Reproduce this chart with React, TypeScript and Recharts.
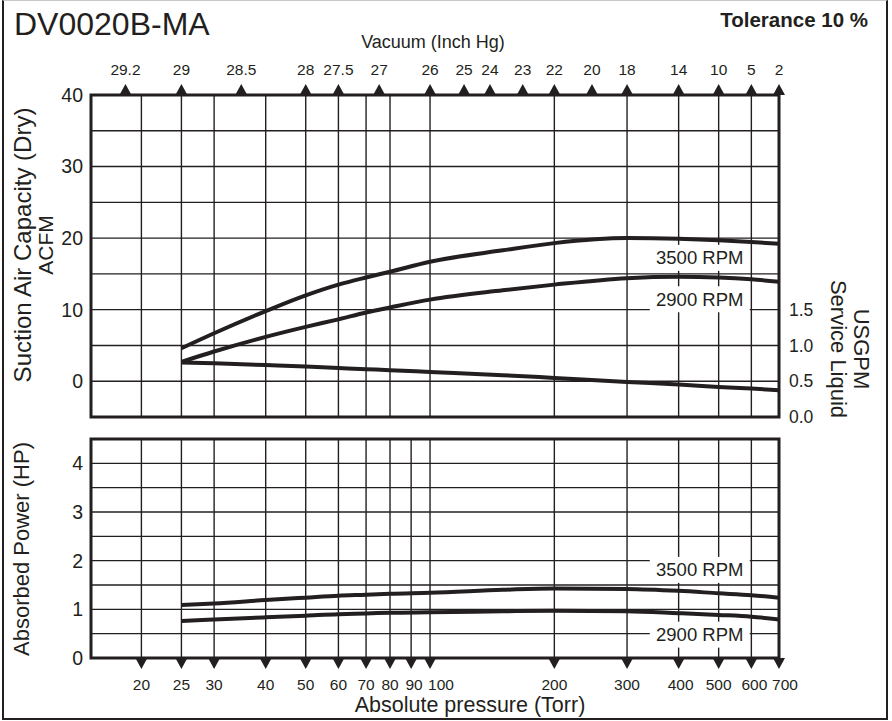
import React from 'react';
import { LineChart, Line, XAxis, YAxis, CartesianGrid, ReferenceArea, ReferenceDot } from 'recharts';

const INK = '#231f20';
const FONT = '"Liberation Sans", Arial, Helvetica, sans-serif';

// Absolute pressure (Torr) sample points
const torr = [25, 30, 40, 50, 60, 70, 80, 100, 150, 200, 300, 400, 500, 600, 700];
// Suction air capacity (ACFM)
const acfm3500 = [4.6, 6.7, 9.8, 12.0, 13.5, 14.5, 15.3, 16.7, 18.3, 19.3, 20.0, 19.9, 19.7, 19.45, 19.2];
const acfm2900 = [2.7, 4.15, 6.2, 7.6, 8.65, 9.6, 10.3, 11.4, 12.7, 13.5, 14.4, 14.6, 14.5, 14.25, 13.9];
// Service liquid (USGPM)
const serviceLiquid = [0.762, 0.75, 0.725, 0.705, 0.685, 0.668, 0.655, 0.63, 0.585, 0.546, 0.49, 0.454, 0.42, 0.398, 0.374];
// Absorbed power (HP)
const hp3500 = [1.09, 1.12, 1.19, 1.24, 1.28, 1.3, 1.32, 1.34, 1.4, 1.43, 1.42, 1.38, 1.33, 1.29, 1.24];
const hp2900 = [0.76, 0.79, 0.835, 0.87, 0.9, 0.915, 0.93, 0.94, 0.96, 0.97, 0.96, 0.92, 0.885, 0.85, 0.79];

// Axis ticks
const xDomain = [15.1, 700];
const pressureTicks = [20, 25, 30, 40, 50, 60, 70, 80, 90, 100, 200, 300, 400, 500, 600, 700];
const gridTorr = [20, 25, 30, 40, 50, 60, 70, 80, 90, 100, 200, 300, 400, 500, 600];
const vacuumLabels = ['29.2', '29', '28.5', '28', '27.5', '27', '26', '25', '24', '23', '22', '20', '18', '14', '10', '5', '2'];
const vacuumAtTorr = [18.3, 25, 34.9, 50, 60, 75.3, 100, 120.9, 139.7, 167.7, 200, 246.7, 300, 400, 500, 600, 700];
const acfmDomain = [-5, 40];
const acfmTicks = [0, 10, 20, 30, 40];
const acfmGrid = [-5, 0, 5, 10, 15, 20, 25, 30, 35, 40];
const usgpmDomain = [0, 4.5];
const usgpmTicks = [0, 0.5, 1, 1.5];
const hpDomain = [0, 4.5];
const hpTicks = [0, 1, 2, 3, 4];
const hpGrid = [0, 0.5, 1, 1.5, 2, 2.5, 3, 3.5, 4, 4.5];

// RPM tag anchors [torr, value]
const tagTop3500 = [450, 17.24];
const tagTop2900 = [450, 11.45];
const tagBot3500 = [450, 1.81];
const tagBot2900 = [450, 0.48];

const capacityRows = torr.map((t, i) => ({
  torr: t,
  acfm3500: acfm3500[i],
  acfm2900: acfm2900[i],
  liquid: serviceLiquid[i],
}));
const powerRows = torr.map((t, i) => ({ torr: t, hp3500: hp3500[i], hp2900: hp2900[i] }));

// small horizontal nudges of crowded pressure labels (style only)
const labelNudge: Record<number, number> = { 90: 3, 100: 11, 400: 2, 600: 3, 700: 6 };

const TopTick = (props: any) => {
  const { x, y, payload } = props;
  const i = vacuumAtTorr.indexOf(payload.value);
  return (
    <g>
      <path d={`M${x - 6},${y} L${x + 6},${y} L${x},${y - 11} Z`} fill={INK} />
      <text x={x} y={y - 20} textAnchor="middle" fontSize={15.5} fill={INK} fontFamily={FONT}>
        {vacuumLabels[i]}
      </text>
    </g>
  );
};

const BottomTick = (props: any) => {
  const { x, y, payload } = props;
  const dx = labelNudge[payload.value] || 0;
  return (
    <g>
      <path d={`M${x - 6},${y} L${x + 6},${y} L${x},${y + 11} Z`} fill={INK} />
      <text x={x + dx} y={y + 32} textAnchor="middle" fontSize={15.5} fill={INK} fontFamily={FONT}>
        {payload.value}
      </text>
    </g>
  );
};

const makeTag = (label: string) => (p: any) => {
  const { cx, cy } = p;
  return (
    <g>
      <rect x={cx - 50} y={cy - 13} width={100} height={26} fill="#fff" />
      <text x={cx} y={cy} textAnchor="middle" dominantBaseline="central" fontSize={18.5} fill={INK} fontFamily={FONT}>
        {label}
      </text>
    </g>
  );
};

const yTick = { fontSize: 19.5, fill: INK, fontFamily: FONT };

export default function App() {
  return (
    <div style={{ position: 'absolute', left: 0, top: 0, width: 892, height: 721, background: '#fff', fontFamily: FONT }}>
      <div
        style={{
          position: 'absolute',
          left: 2,
          top: 0,
          width: 886,
          height: 720,
          boxSizing: 'border-box',
          borderLeft: `2px solid ${INK}`,
          borderRight: `2px solid ${INK}`,
          borderTop: '1px solid #c8c8c8',
          borderBottom: `2px solid ${INK}`,
        }}
      />
      <div style={{ position: 'absolute', left: 0, top: 0 }}>
        <LineChart width={892} height={721} data={capacityRows} margin={{ top: 55, left: 31, right: 53, bottom: 304 }}>
          <XAxis xAxisId="b" dataKey="torr" type="number" scale="log" domain={xDomain} allowDataOverflow hide />
          <XAxis
            xAxisId="t"
            orientation="top"
            dataKey="torr"
            type="number"
            scale="log"
            domain={xDomain}
            allowDataOverflow
            ticks={vacuumAtTorr}
            interval={0}
            height={40}
            tickSize={0}
            tickMargin={0}
            axisLine={false}
            tickLine={false}
            tick={<TopTick />}
          />
          <YAxis
            yAxisId="l"
            type="number"
            domain={acfmDomain}
            allowDataOverflow
            ticks={acfmTicks}
            interval={0}
            width={60}
            tickSize={0}
            tickMargin={8}
            axisLine={false}
            tickLine={false}
            tick={yTick}
          />
          <YAxis
            yAxisId="r"
            orientation="right"
            type="number"
            domain={usgpmDomain}
            allowDataOverflow
            ticks={usgpmTicks}
            interval={0}
            width={60}
            tickSize={0}
            tickMargin={10}
            axisLine={false}
            tickLine={false}
            tick={{ fontSize: 17.5, fill: INK, fontFamily: FONT }}
            tickFormatter={(v: number) => v.toFixed(1)}
          />
          <CartesianGrid
            xAxisId="b"
            yAxisId="l"
            stroke={INK}
            strokeWidth={1.4}
            verticalValues={gridTorr}
            horizontalValues={acfmGrid}
          />
          <ReferenceDot xAxisId="b" yAxisId="l" x={tagTop3500[0]} y={tagTop3500[1]} r={0} ifOverflow="visible" shape={makeTag('3500 RPM')} />
          <ReferenceDot xAxisId="b" yAxisId="l" x={tagTop2900[0]} y={tagTop2900[1]} r={0} ifOverflow="visible" shape={makeTag('2900 RPM')} />
          <Line xAxisId="b" yAxisId="l" type="monotone" dataKey="acfm3500" stroke={INK} strokeWidth={4} dot={false} isAnimationActive={false} />
          <Line xAxisId="b" yAxisId="l" type="monotone" dataKey="acfm2900" stroke={INK} strokeWidth={4} dot={false} isAnimationActive={false} />
          <Line xAxisId="b" yAxisId="r" type="monotone" dataKey="liquid" stroke={INK} strokeWidth={4} dot={false} isAnimationActive={false} />
          <ReferenceArea
            xAxisId="b"
            yAxisId="l"
            x1={xDomain[0]}
            x2={xDomain[1]}
            y1={acfmDomain[0]}
            y2={acfmDomain[1]}
            fill="none"
            fillOpacity={0}
            stroke={INK}
            strokeWidth={3}
            ifOverflow="visible"
          />
        </LineChart>
      </div>
      <div style={{ position: 'absolute', left: 0, top: 0 }}>
        <LineChart width={892} height={721} data={powerRows} margin={{ top: 439, left: 31, right: 113, bottom: 13 }}>
          <XAxis
            xAxisId="b"
            dataKey="torr"
            type="number"
            scale="log"
            domain={xDomain}
            allowDataOverflow
            ticks={pressureTicks}
            interval={0}
            height={50}
            tickSize={0}
            tickMargin={0}
            axisLine={false}
            tickLine={false}
            tick={<BottomTick />}
          />
          <YAxis
            yAxisId="l"
            type="number"
            domain={hpDomain}
            allowDataOverflow
            ticks={hpTicks}
            interval={0}
            width={60}
            tickSize={0}
            tickMargin={8}
            axisLine={false}
            tickLine={false}
            tick={yTick}
          />
          <CartesianGrid
            xAxisId="b"
            yAxisId="l"
            stroke={INK}
            strokeWidth={1.4}
            verticalValues={gridTorr}
            horizontalValues={hpGrid}
          />
          <ReferenceDot xAxisId="b" yAxisId="l" x={tagBot3500[0]} y={tagBot3500[1]} r={0} ifOverflow="visible" shape={makeTag('3500 RPM')} />
          <ReferenceDot xAxisId="b" yAxisId="l" x={tagBot2900[0]} y={tagBot2900[1]} r={0} ifOverflow="visible" shape={makeTag('2900 RPM')} />
          <Line xAxisId="b" yAxisId="l" type="monotone" dataKey="hp3500" stroke={INK} strokeWidth={4} dot={false} isAnimationActive={false} />
          <Line xAxisId="b" yAxisId="l" type="monotone" dataKey="hp2900" stroke={INK} strokeWidth={4} dot={false} isAnimationActive={false} />
          <ReferenceArea
            xAxisId="b"
            yAxisId="l"
            x1={xDomain[0]}
            x2={xDomain[1]}
            y1={hpDomain[0]}
            y2={hpDomain[1]}
            fill="none"
            fillOpacity={0}
            stroke={INK}
            strokeWidth={3}
            ifOverflow="visible"
          />
        </LineChart>
      </div>
      <svg width={892} height={721} style={{ position: 'absolute', left: 0, top: 0, pointerEvents: 'none' }} fontFamily={FONT} fill={INK}>
        <text x={14} y={35} fontSize={32}>DV0020B-MA</text>
        <text x={868} y={27} fontSize={20.5} fontWeight="bold" textAnchor="end">Tolerance 10 %</text>
        <text x={433} y={48} fontSize={18} textAnchor="middle">Vacuum (Inch Hg)</text>
        <text x={470} y={712} fontSize={21.5} textAnchor="middle">Absolute pressure (Torr)</text>
        <text transform="translate(22,245) rotate(-90)" fontSize={24} textAnchor="middle" dominantBaseline="central">Suction Air Capacity (Dry)</text>
        <text transform="translate(45,245) rotate(-90)" fontSize={21} textAnchor="middle" dominantBaseline="central">ACFM</text>
        <text transform="translate(21,549) rotate(-90)" fontSize={22} textAnchor="middle" dominantBaseline="central">Absorbed Power (HP)</text>
        <text transform="translate(838,349) rotate(90)" fontSize={22} textAnchor="middle" dominantBaseline="central">Service Liquid</text>
        <text transform="translate(861,349) rotate(90)" fontSize={22} textAnchor="middle" dominantBaseline="central">USGPM</text>
      </svg>
    </div>
  );
}
